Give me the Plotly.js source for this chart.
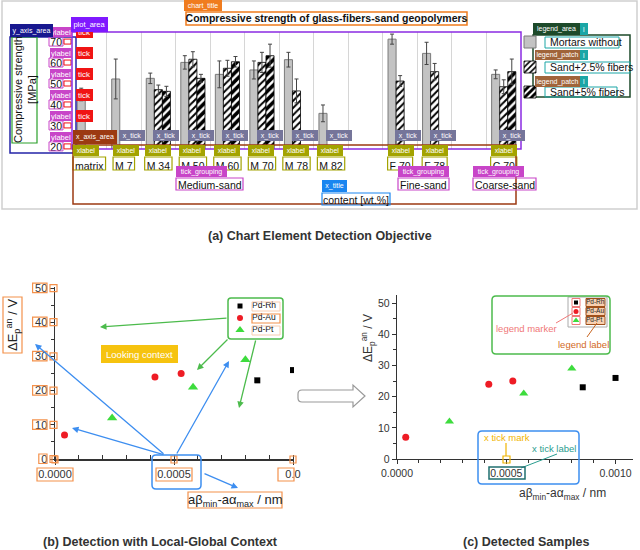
<!DOCTYPE html>
<html><head><meta charset="utf-8">
<script src="https://cdn.plot.ly/plotly-3.0.1.min.js"></script>
<style>html,body{margin:0;padding:0;background:#fff}#chart{width:640px;height:550px}</style>
</head><body><div id="chart"></div>
<script>
// ---------- data: panel (a) bar chart ----------
const categories = ["matrix","M 7","M 34","M 50","M 60","M 70","M 78","M 82"," ","F 70","F 78","  ","C 70"];
const seriesNames = ["Mortars without","Sand+2.5% fibers","Sand+5% fibers"];
const mortarsWithout    = [45, 52.4, 52.7, 60.3, 54.6, 56.7, 61.6, 36, null, 71.4, 64.6, null, 54.6];
const mortarsWithoutErr = [3, 9.5, 2.5, 3.2, 6.4, 4.3, 3.5, 4, null, 2.4, 5.3, null, 2.1];
const sand25Fibers      = [null, null, 47.3, 61.8, 57.5, 60.3, 46.7, null, null, 51.4, 55.9, null, 48.7];
const sand25FibersErr   = [null, null, 2.2, 3.6, 3.8, 4.8, 5.7, null, null, 2.6, 3.9, null, 3.3];
const sand5Fibers       = [null, null, 46.5, 52.7, 60.6, 63.5, null, null, null, null, null, null, 55.9];
const sand5FibersErr    = [null, null, 2.4, 1.9, 2.5, 5.5, null, null, null, null, null, null, 6];
const groupLabels = ["Medium-sand","Fine-sand","Coarse-sand"];
const yTicksA = [20,30,40,50,60,70];

// ---------- data: panels (b) and (c) scatter ----------
const alloyNames = ["Pd-Rh","Pd-Au","Pd-Pt"];
const pdRhX = [0.00085, 0.0010];            const pdRhY = [23, 26];
const pdAuX = [0.00004, 0.00042, 0.00053];  const pdAuY = [7, 24, 25];
const pdPtX = [0.00024, 0.00058, 0.0008];   const pdPtY = [12, 21, 29];
const xTickVals = [0, 0.0005, 0.0010];
const xTickTexts = ["0.0000","0.0005","0.0010"];
const xTickTextsCropped = ["0.0000","0.0005","0.0"];
const yTickVals = [0,10,20,30,40,50];

// ---------- helpers (pixel -> paper) ----------
const FONT = '"Liberation Sans", Arial, sans-serif';
const W = 640, H = 550;
const X = p => p / W, Y = p => 1 - p / H;
const shapes = [], annotations = [];
function rect(x0,y0,x1,y1,color,width,fill,layer){
  shapes.push({type:'rect',xref:'paper',yref:'paper',x0:X(x0),x1:X(x1),y0:Y(y1),y1:Y(y0),
    line:{color:color,width:width===undefined?1.2:width},fillcolor:fill||'rgba(0,0,0,0)',layer:layer||'above'});
}
function rrect(x0,y0,x1,y1,r,color,width){
  const p=(x,y)=>X(x)+','+Y(y);
  const d='M'+p(x0+r,y0)+' L'+p(x1-r,y0)+' Q'+p(x1,y0)+' '+p(x1,y0+r)+' L'+p(x1,y1-r)+' Q'+p(x1,y1)+' '+p(x1-r,y1)+
    ' L'+p(x0+r,y1)+' Q'+p(x0,y1)+' '+p(x0,y1-r)+' L'+p(x0,y0+r)+' Q'+p(x0,y0)+' '+p(x0+r,y0)+' Z';
  shapes.push({type:'path',xref:'paper',yref:'paper',path:d,line:{color:color,width:width||1.4},fillcolor:'rgba(0,0,0,0)',layer:'above'});
}
function seg(x0,y0,x1,y1,color,width){
  shapes.push({type:'line',xref:'paper',yref:'paper',x0:X(x0),y0:Y(y0),x1:X(x1),y1:Y(y1),line:{color:color,width:width||1.2},layer:'above'});
}
function tag(text,x0,y0,x1,y1,bg,fs,fc){
  annotations.push({xref:'paper',yref:'paper',x:X(x0),y:Y(y0),xanchor:'left',yanchor:'top',width:x1-x0,height:y1-y0,
    bgcolor:bg,borderpad:0,borderwidth:0,text:text,showarrow:false,align:'center',valign:'middle',
    font:{family:FONT,size:fs||7,color:fc||'#fff'}});
}
function label(text,x,y,fs,color,opts){
  annotations.push(Object.assign({xref:'paper',yref:'paper',x:X(x),y:Y(y),xanchor:'center',yanchor:'middle',
    text:text,showarrow:false,font:{family:FONT,size:fs,color:color}},opts||{}));
}
function arrow(x0,y0,x1,y1,color){
  annotations.push({xref:'paper',yref:'paper',x:X(x1),y:Y(y1),ax:x0-x1,ay:y0-y1,axref:'pixel',ayref:'pixel',
    text:'',showarrow:true,arrowhead:2,arrowsize:1,arrowwidth:1.3,arrowcolor:color,standoff:0});
}
const ctx = document.createElement('canvas').getContext('2d');
ctx.font = '10.5px "Liberation Sans"';
const tw = s => ctx.measureText(s).width;

// ---------- panel (a) geometry ----------
const A = {left:72, right:521, top:32, bottom:149, ymin:19, ymax:74.8};
const slotW = (A.right - A.left) / categories.length;
const yPixA = v => A.bottom - (v - A.ymin) * (A.bottom - A.top) / (A.ymax - A.ymin);

// outer frame + title
rect(2,1,637,209,'#cfcfcf',1.5);
rect(186,12,467,25,'#f07c1e',1.5);
tag('chart_title',184,0,222,11,'#f07c1e');
// y axis area
rect(10,37,76,153,'#2424a8',1.5);
rect(12,37,37,143,'#2aa02a',1.2);
label('Compressive strength<br>[MPa]',25,90,11,'#111',{textangle:-90});
yTicksA.forEach(v=>{
  const yc = yPixA(v);
  rect(49,yc-5,63,yc+4,'#c845c8',1);
  rect(64,yc-3,71,yc+2,'#f01414',1,'#fff');
  if(v>20) tag('tick',76,yc-16,93,yc-4,'#f01414',8);
  tag('ylabel',50,yc-15,72,yc-5,'#c845c8',7.5);
});
tag('y_axis_area',10,24,53,37,'#18188f');
// plot area
rect(A.left,A.top,A.right,A.bottom,'#8a2be2',1.5);
tag('plot_area',71,17,108,32,'#7f19ff',7.5);
// x ticks / labels
categories.forEach((c,i)=>{
  if(!c.trim()) return;
  const cx = A.left + slotW*(i+0.5);
  if(i>0) tag('x_tick',cx-5,130,cx+21,141,'#75759a');
  const w = tw(c);
  rect(cx-w/2-2,157,cx+w/2+2,170,'#a3a300',1.2);
  tag('xlabel',cx-w/2-2,145,cx-w/2+24,156,'#a3a300',7);
});
rect(73,145,516,204,'#9c3a12',1.5);
tag('x_axis_area',73,130,117,144,'#9c3a12');
// tick grouping
const groupBoxes = [[176,227,243],[398,449,449],[473,524,536]];
groupLabels.forEach((g,i)=>{
  const b = groupBoxes[i];
  tag('tick_grouping',b[0],166,b[1],177,'#c845c8',7);
  rect(b[0],178,b[2],190,'#c845c8',1.2);
  label(g,(b[0]+b[2])/2,184.5,10.5,'#111');
});
// x title
tag('x_title',322,180,347,192,'#1a86f0',7);
rect(322,193,390,205,'#1a86f0',1.2);
label('content [wt.%]',356,199.5,10.5,'#111');
// legend area
rect(533,35,630,97,'#1d4a2a',1.5);
rect(545,37,619,48,'#1aa6a6',1); rect(545,62,630,73,'#1aa6a6',1); rect(545,87,617,97,'#1aa6a6',1);
tag('legend_area',533,23,580,35,'#1d4a2a',7); tag('l',580,23,588,35,'#1aa6a6',7);
tag('legend_patch',535,50,580,60,'#a0643a',7); tag('l',580,50,588,60,'#1aa6a6',7);
tag('legend_patch',535,76,580,87,'#a0643a',7); tag('l',580,76,588,87,'#1aa6a6',7);
label('<b>(a) Chart Element Detection Objective</b>',320,236,12.5,'#333');

// ---------- panel (b) geometry ----------
const B = {left:55, right:294, top:287, bottom:459, xmax:0.0010042, ymax:50.3};
const xPixB = v => B.left + v*(B.right-B.left)/B.xmax;
const yPixB = v => B.bottom - v*(B.bottom-B.top)/B.ymax;
const orange = '#f4914b';
yTickVals.forEach(v=>{
  const yc = yPixB(v), s = String(v);
  rect(47-6.2*s.length-2,yc-5,47,yc+4.5,orange,1.2);
  rect(50,yc-3.5,57,yc+3.5,orange,1.2);
});
xTickVals.forEach((v,i)=>{
  const xc = xPixB(v);
  if(i<2) rect(xc-18,468,xc+18,481,orange,1.2); else rect(278,468,294,481,orange,1.2);
  rect(xc-3,456,xc+3,463,orange,1.2);
});
rect(3,297,22,353,orange,1.2);
label('ΔE<sub>p</sub><sup>an</sup> / V',13,325,13,'#222',{textangle:-90});
rect(188,492,282,508,orange,1.2);
label('aβ<sub>min</sub>-aα<sub>max</sub> / nm',235,500,13,'#222');
rrect(228,298,283,339,3,'#4cbb4c',1.5);
rect(252,302,280,311,'#f8cdb0',1); rect(252,314,280,323,orange,1.2); rect(252,326,280,335,'#f8cdb0',1);
tag('Looking context',101,345,178,363,'#f6c30f',9.5);
const green='#4cbb4c', blue='#3d8ef0';
arrow(228,318,100,327,green); arrow(229,338,197,370,green); arrow(256,339,239,408,green);
arrow(165,455,35,344,blue); arrow(165,455,72,428,blue); arrow(176,455,229,361,blue); arrow(203,473,238,488,blue);
rrect(152,455,201,489,4,blue,1.5);
label('<b>(b) Detection with Local-Global Context</b>',160,542,12.5,'#333');

// hollow arrow
(function(){
  const p=(x,y)=>X(x)+','+Y(y);
  const d='M'+p(302,390)+' L'+p(353,390)+' L'+p(353,385)+' L'+p(365,396)+' L'+p(353,407)+' L'+p(353,402)+
    ' L'+p(302,402)+' Q'+p(298,402)+' '+p(298,398)+' L'+p(298,394)+' Q'+p(298,390)+' '+p(302,390)+' Z';
  shapes.push({type:'path',xref:'paper',yref:'paper',path:d,line:{color:'#999',width:1.2},fillcolor:'#fff',layer:'above'});
})();

// ---------- panel (c) ----------
rrect(492,296,610,354,4,'#4cbb4c',1.5);
rect(568,297,607,327,'#aaa',1,'#fff','below');
[302.5,311.5,320.5].forEach(yc=>{
  rect(572,yc-4,580,yc+4,'#f07878',1);
  rect(586,yc-4,605,yc+4,'#a0501a',1,'rgba(240,150,80,0.45)','below');
});
label('legend marker',526,328,9.5,'#f07878');
seg(556,323,573,313,'#f07878',1);
label('legend label',583,344,9.5,'#d2691e');
seg(587,337,597,323,'#c8641e',1);
rrect(478,431,579,484,4,blue,1.5);
label('x tick mark',507,437,9.5,'#f0b400');
seg(506,443,506,456,'#f0b400',1.2);
rect(503,456,510,463,'#f0b400',1.2);
label('x tick label',554,448,9.5,'#2a9d8f');
seg(557,454,521,468,'#2a9d8f',1);
rect(489,467,525,479,'#1f6f6f',1.5);
label('ΔE<sub>p</sub><sup>an</sup> / V',368,338,12,'#333',{textangle:-90});
label('aβ<sub>min</sub>-aα<sub>max</sub> / nm',562,494,12,'#333');
label('<b>(c) Detected Samples</b>',526,542,12.5,'#333');

// ---------- traces ----------
const errStyle = {type:'data',visible:true,color:'#444',thickness:1,width:2};
const traces = [
  {type:'bar',name:seriesNames[0],x:categories,y:mortarsWithout,xaxis:'x',yaxis:'y',legendgroup:'g1',
   marker:{color:'#c3c3c3',line:{color:'#7a7a7a',width:1}},error_y:Object.assign({array:mortarsWithoutErr},errStyle)},
  {type:'bar',name:seriesNames[1],x:categories,y:sand25Fibers,xaxis:'x',yaxis:'y',legendgroup:'g2',
   marker:{color:'#fff',line:{color:'#000',width:0.8},pattern:{shape:'/',fgcolor:'#000',bgcolor:'#fff',size:5,solidity:0.4}},
   error_y:Object.assign({array:sand25FibersErr},errStyle)},
  {type:'bar',name:seriesNames[2],x:categories,y:sand5Fibers,xaxis:'x',yaxis:'y',legendgroup:'g3',
   marker:{color:'#fff',line:{color:'#000',width:0.8},pattern:{shape:'/',fgcolor:'#000',bgcolor:'#fff',size:6,solidity:0.6}},
   error_y:Object.assign({array:sand5FibersErr},errStyle)}
];
const alloyData = [[pdRhX,pdRhY],[pdAuX,pdAuY],[pdPtX,pdPtY]];
const alloyMarkers = [{symbol:'square',color:'#000'},{symbol:'circle',color:'#ee1c25'},{symbol:'triangle-up',color:'#3ddc3d'}];
const sizesB = [6,7,9], sizesC = [6,7,8];
alloyData.forEach((d,i)=>{
  traces.push({type:'scatter',mode:'markers',name:alloyNames[i],x:d[0],y:d[1],xaxis:'x2',yaxis:'y2',showlegend:false,
    marker:Object.assign({size:sizesB[i]},alloyMarkers[i])});
});
alloyData.forEach((d,i)=>{
  traces.push({type:'scatter',mode:'markers',name:alloyNames[i],x:d[0],y:d[1],xaxis:'x3',yaxis:'y3',showlegend:false,
    marker:Object.assign({size:sizesC[i]},alloyMarkers[i])});
});
// compact legends for (b) and (c), drawn on hidden overlay axes (one row per alloy)
alloyNames.forEach((n,i)=>{
  traces.push({type:'scatter',mode:'markers',x:[10],y:[i],xaxis:'x4',yaxis:'y4',showlegend:false,hoverinfo:'skip',cliponaxis:false,
    marker:Object.assign({size:sizesB[i]-1},alloyMarkers[i])});
  traces.push({type:'scatter',mode:'markers',x:[8],y:[i],xaxis:'x5',yaxis:'y5',showlegend:false,hoverinfo:'skip',cliponaxis:false,
    marker:Object.assign({size:sizesC[i]-2},alloyMarkers[i])});
});
traces.push({type:'scatter',mode:'text',x:alloyNames.map(()=>22),y:alloyNames.map((n,i)=>i),text:alloyNames,textposition:'middle right',
  xaxis:'x4',yaxis:'y4',showlegend:false,hoverinfo:'skip',cliponaxis:false,textfont:{family:FONT,size:8.5,color:'#111'}});
traces.push({type:'scatter',mode:'text',x:alloyNames.map(()=>18),y:alloyNames.map((n,i)=>i),text:alloyNames,textposition:'middle right',
  xaxis:'x5',yaxis:'y5',showlegend:false,hoverinfo:'skip',cliponaxis:false,textfont:{family:FONT,size:6.5,color:'#222'}});

const tickFont = {family:FONT,size:11,color:'#333'};
const layout = {
  width:W,height:H,margin:{l:0,r:0,t:0,b:0},paper_bgcolor:'#fff',plot_bgcolor:'rgba(0,0,0,0)',
  font:{family:FONT},
  title:{text:'<b>Compressive strength of glass-fibers-sand geopolymers</b>',x:X(326.5),xanchor:'center',xref:'paper',
    y:Y(18.5),yanchor:'middle',yref:'paper',font:{family:FONT,size:10.5,color:'#111'}},
  barmode:'group',bargap:0.3,bargroupgap:0,
  showlegend:true,
  legend:{x:X(510),y:Y(27.5),xanchor:'left',yanchor:'top',xref:'paper',yref:'paper',bgcolor:'rgba(0,0,0,0)',
    font:{family:FONT,size:10.5,color:'#111'},tracegroupgap:6,traceorder:'grouped'},
  xaxis:{domain:[X(A.left),X(A.right)],type:'category',categoryorder:'array',categoryarray:categories,tickson:'boundaries',
    showgrid:true,gridcolor:'#d6d6d6',gridwidth:1,ticks:'',ticklabelstandoff:9,tickangle:0,zeroline:false,showline:false,
    tickfont:{family:FONT,size:10.5,color:'#111'},anchor:'y',fixedrange:true},
  yaxis:{domain:[Y(A.bottom),Y(A.top)],range:[A.ymin,A.ymax],tickvals:yTicksA,showgrid:false,zeroline:false,ticks:'',
    ticklabelstandoff:9,tickfont:{family:FONT,size:10.5,color:'#111'},anchor:'x',fixedrange:true},
  xaxis2:{domain:[X(B.left),X(B.right)],range:[0,B.xmax],tickvals:xTickVals,ticktext:xTickTextsCropped,showline:true,
    linecolor:'#333',linewidth:1.5,ticks:'outside',ticklen:4,tickcolor:'#333',showgrid:false,zeroline:false,
    minor:{dtick:0.0001,ticks:'inside',ticklen:4,tickcolor:'#333'},tickfont:tickFont,anchor:'y2',fixedrange:true},
  yaxis2:{domain:[Y(B.bottom),Y(B.top)],range:[0,B.ymax],tickvals:yTickVals,showline:true,linecolor:'#333',linewidth:1.5,
    ticks:'outside',ticklen:4,tickcolor:'#333',showgrid:false,zeroline:false,
    minor:{dtick:5,ticks:'outside',ticklen:3,tickcolor:'#333'},tickfont:tickFont,anchor:'x2',fixedrange:true},
  xaxis3:{domain:[X(397),X(633)],range:[0,0.00108],tickvals:xTickVals,ticktext:xTickTexts,showline:true,linecolor:'#333',
    linewidth:1.2,ticks:'outside',ticklen:4,tickcolor:'#333',showgrid:false,zeroline:false,
    minor:{dtick:0.0001,ticks:'outside',ticklen:2.5,tickcolor:'#333'},tickfont:{family:FONT,size:10.5,color:'#333'},anchor:'y3',fixedrange:true},
  yaxis3:{domain:[Y(459),Y(295)],range:[0,52.6],tickvals:yTickVals,showline:true,linecolor:'#333',linewidth:1.2,
    ticks:'outside',ticklen:4,tickcolor:'#333',showgrid:false,zeroline:false,
    minor:{dtick:5,ticks:'outside',ticklen:2.5,tickcolor:'#333'},tickfont:{family:FONT,size:10.5,color:'#333'},anchor:'x3',fixedrange:true},
  xaxis4:{domain:[X(230),X(283)],range:[0,53],visible:false,anchor:'y4',fixedrange:true},
  yaxis4:{domain:[Y(336),Y(300)],range:[2.5,-0.5],visible:false,anchor:'x4',fixedrange:true},
  xaxis5:{domain:[X(568),X(607)],range:[0,39],visible:false,anchor:'y5',fixedrange:true},
  yaxis5:{domain:[Y(325),Y(298)],range:[2.5,-0.5],visible:false,anchor:'x5',fixedrange:true},
  shapes:shapes,annotations:annotations
};
Plotly.newPlot('chart',traces,layout,{staticPlot:true,displayModeBar:false});
</script></body></html>
